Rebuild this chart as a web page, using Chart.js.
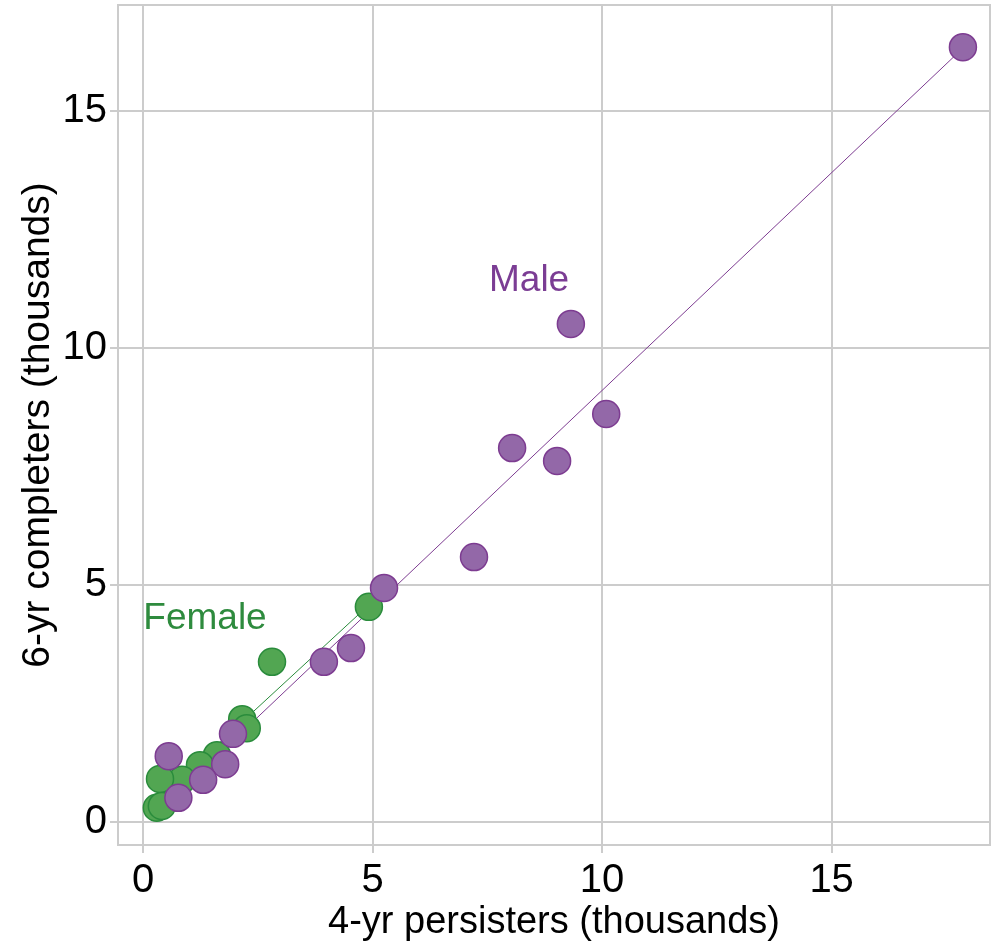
<!DOCTYPE html>
<html>
<head>
<meta charset="utf-8">
<script src="https://cdn.jsdelivr.net/npm/chart.js@4/dist/chart.umd.min.js"></script>
<style>
  html, body { margin: 0; padding: 0; background: #ffffff; overflow: hidden; }
  canvas { display: block; }
</style>
</head>
<body>
<canvas id="scatter" width="993" height="948"></canvas>
<script>
// values (thousands)
const maleX = [17.86, 9.32, 10.09, 8.04, 9.02, 7.21, 5.25, 4.53, 3.94, 1.96, 1.79, 1.31, 0.56, 0.77]
const maleY = [16.35, 10.51, 8.61, 7.89, 7.62, 5.59, 4.94, 3.67, 3.38, 1.86, 1.22, 0.89, 1.39, 0.51]

const femaleX = [4.92, 2.81, 2.16, 2.26, 1.61, 1.24, 0.85, 0.37, 0.30, 0.41]
const femaleY = [4.54, 3.38, 2.17, 1.98, 1.41, 1.20, 0.89, 0.91, 0.30, 0.34]

// fitted lines, end points
const maleFitX = [0.57, 17.86]
const maleFitY = [0.44, 16.33]
const femaleFitX = [0.30, 4.92]
const femaleFitY = [0.45, 4.58]

const xTicks = [0, 5, 10, 15]
const yTicks = [0, 5, 10, 15]

const groupLabels = ['Male', 'Female']
const groupLabelX = [8.41, 1.35]
const groupLabelY = [11.43, 4.28]

const purple = '#9368a8'
const purpleEdge = '#7d3c91'
const green = '#52a652'
const greenEdge = '#2a8c3c'
const labelColors = ['#7b3d94', '#2e8b3e']
const gridColor = '#cccccc'
const fontFamily = "'Liberation Sans', Arial, sans-serif"

const toPoints = (xs, ys) => xs.map((x, i) => ({ x: x, y: ys[i] }))

const boxPlugin = {
    id: 'box',
    beforeDatasetsDraw(chart) {
        const { ctx, chartArea } = chart
        ctx.save()
        ctx.strokeStyle = gridColor
        ctx.lineWidth = 2
        ctx.strokeRect(chartArea.left, chartArea.top, chartArea.right - chartArea.left, chartArea.bottom - chartArea.top)
        ctx.restore()
    }
}

const groupLabelPlugin = {
    id: 'groupLabels',
    afterDatasetsDraw(chart) {
        const { ctx } = chart
        const xs = chart.scales.x
        const ys = chart.scales.y
        ctx.save()
        ctx.font = '37px ' + fontFamily
        ctx.textAlign = 'center'
        ctx.textBaseline = 'middle'
        groupLabels.forEach((t, i) => {
            ctx.fillStyle = labelColors[i]
            ctx.fillText(t, xs.getPixelForValue(groupLabelX[i]), ys.getPixelForValue(groupLabelY[i]))
        })
        ctx.restore()
    }
}

const scatterConfig = {
    type: 'scatter',
    data: {
        datasets: [
            {
                label: 'Male',
                data: toPoints(maleX, maleY),
                backgroundColor: purple,
                borderColor: purpleEdge,
                borderWidth: 1.5,
                pointRadius: 13.5,
                order: 0
            },
            {
                label: 'Female',
                data: toPoints(femaleX, femaleY),
                backgroundColor: green,
                borderColor: greenEdge,
                borderWidth: 1.5,
                pointRadius: 13.5,
                order: 1
            },
            {
                label: 'Male fit',
                type: 'line',
                data: toPoints(maleFitX, maleFitY),
                borderColor: purpleEdge,
                borderWidth: 1,
                pointRadius: 0,
                order: 2
            },
            {
                label: 'Female fit',
                type: 'line',
                data: toPoints(femaleFitX, femaleFitY),
                borderColor: greenEdge,
                borderWidth: 1,
                pointRadius: 0,
                order: 3
            }
        ]
    },
    options: {
        animation: false,
        responsive: false,
        layout: { autoPadding: false, padding: { left: 0, right: 3, top: 5, bottom: 0 } },
        scales: {
            x: {
                type: 'linear',
                min: -0.545,
                max: 18.45,
                afterBuildTicks: s => { s.ticks = xTicks.map(v => ({ value: v })) },
                afterFit: s => {
                    s.height = 103
                    s.paddingLeft = 0
                    s.paddingRight = 0
                },
                grid: { color: gridColor, lineWidth: 2, tickLength: 8 },
                border: { display: false },
                ticks: {
                    color: '#000000',
                    padding: 4,
                    maxRotation: 0,
                    font: { family: fontFamily, size: 40 }
                },
                title: {
                    display: true,
                    text: '4-yr persisters (thousands)',
                    color: '#000000',
                    padding: { top: 0, bottom: 3 },
                    font: { family: fontFamily, size: 38 }
                }
            },
            y: {
                type: 'linear',
                min: -0.485,
                max: 17.24,
                afterBuildTicks: s => { s.ticks = yTicks.map(v => ({ value: v })) },
                afterFit: s => {
                    s.width = 118
                    s.paddingTop = 0
                    s.paddingBottom = 0
                },
                grid: { color: gridColor, lineWidth: 2, tickLength: 8 },
                border: { display: false },
                ticks: {
                    color: '#000000',
                    padding: 3,
                    font: { family: fontFamily, size: 40 }
                },
                title: {
                    display: true,
                    text: '6-yr completers (thousands)',
                    color: '#000000',
                    padding: { top: 15, bottom: 0 },
                    font: { family: fontFamily, size: 39 }
                }
            }
        },
        plugins: {
            legend: { display: false },
            tooltip: { enabled: false }
        }
    },
    plugins: [boxPlugin, groupLabelPlugin]
}

const scatter = new Chart(document.getElementById('scatter'), scatterConfig)
</script>
</body>
</html>
